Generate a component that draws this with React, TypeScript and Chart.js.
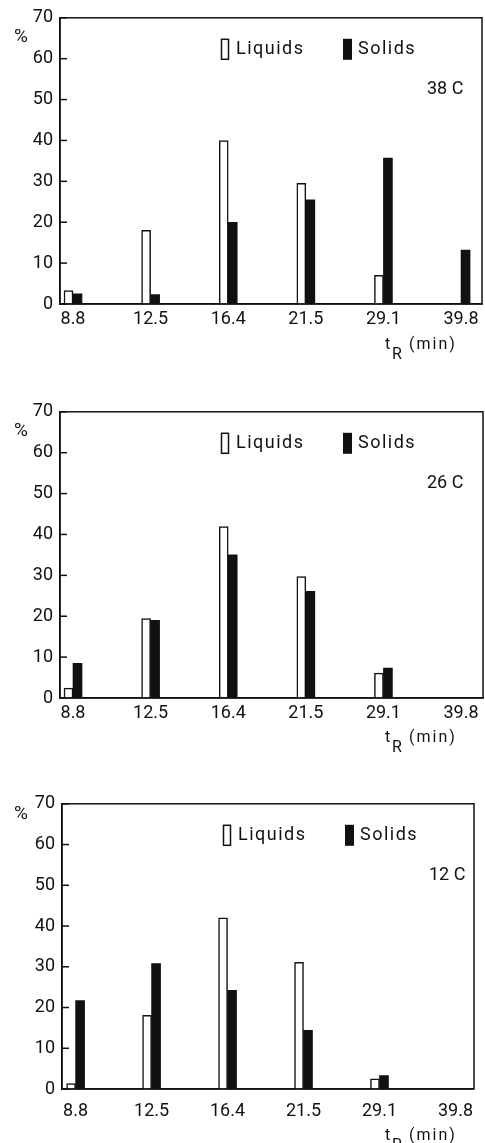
import React, { useEffect, useRef } from 'react';
import { Chart, registerables } from 'chart.js';

Chart.register(...registerables);

// ---- data ----
const categories = ['8.8', '12.5', '16.4', '21.5', '29.1', '39.8'];
const seriesNames = ['Liquids', 'Solids'];
const temperatures = ['38 C', '26 C', '12 C'];

const liquids38 = [3.3, 18, 40, 29.5, 7, null];
const solids38 = [2.5, 2.3, 20, 25.5, 35.7, 13.2];
const liquids26 = [2.4, 19.4, 41.9, 29.7, 6.1, null];
const solids26 = [8.5, 19, 35, 26.1, 7.3, null];
const liquids12 = [1.3, 18.1, 42, 31.1, 2.5, null];
const solids12 = [21.7, 30.8, 24.2, 14.4, 3.3, null];

const yMin = 0;
const yMax = 70;
const yStep = 10;
const yUnit = '%';
const xTitleMain = 't';
const xTitleSub = 'R';
const xTitleUnit = '(min)';

const INK = '#111';
const FONT = 'Roboto, "DejaVu Sans", sans-serif';

type PanelProps = {
  top: number;
  height: number;
  plotLeft: number;
  plotRight: number;
  plotTop: number;
  plotHeight: number;
  xMin: number;
  xMax: number;
  tickPad: number;
  pctDy: number;
  titleDy: number;
  liquids: (number | null)[];
  solids: (number | null)[];
  temp: string;
};

function Panel(p: PanelProps) {
  const ref = useRef<HTMLCanvasElement>(null);
  useEffect(() => {
    const canvas = ref.current!;
    const deco = {
      id: 'deco',
      afterDraw(chart: any) {
        const ctx = chart.ctx as CanvasRenderingContext2D;
        const a = chart.chartArea;
        ctx.save();
        ctx.strokeStyle = INK;
        ctx.fillStyle = INK;
        // frame
        ctx.lineWidth = 1.5;
        ctx.strokeRect(a.left, a.top, a.right - a.left, a.bottom - a.top);
        // inward y ticks
        const ys = chart.scales.y;
        ys.ticks.forEach((t: any) => {
          const y = ys.getPixelForValue(t.value);
          ctx.beginPath();
          ctx.moveTo(a.left, y);
          ctx.lineTo(a.left + 7, y);
          ctx.stroke();
        });
        // unit
        ctx.textBaseline = 'middle';
        ctx.textAlign = 'center';
        ctx.font = `19px ${FONT}`;
        ctx.fillText(yUnit, 21, a.top + p.pctDy);
        // legend
        ctx.textAlign = 'left';
        const ly = a.top + 21;
        ctx.fillStyle = '#fff';
        ctx.fillRect(a.left + 161, ly, 8, 21);
        ctx.strokeRect(a.left + 161.5, ly + 0.5, 7, 20);
        ctx.fillStyle = INK;
        ctx.fillRect(a.left + 283, ly, 9, 21);
        (ctx as any).letterSpacing = '1.5px';
        ctx.font = `18px ${FONT}`;
        ctx.fillText(seriesNames[0], a.left + 176, a.top + 32);
        ctx.fillText(seriesNames[1], a.left + 298, a.top + 32);
        (ctx as any).letterSpacing = '0px';
        // temperature
        ctx.font = `18px ${FONT}`;
        ctx.fillText(p.temp, a.left + 367, a.top + 72);
        // x title t_R (min)
        const by = a.bottom + p.titleDy;
        ctx.font = `16px ${FONT}`;
        ctx.fillText(xTitleMain, 385, by);
        ctx.fillText(xTitleSub, 392, by + 10);
        (ctx as any).letterSpacing = '2px';
        ctx.fillText(xTitleUnit, 409, by);
        (ctx as any).letterSpacing = '0px';
        ctx.restore();
      },
    };
    const chart = new Chart(canvas, {
      type: 'bar',
      data: {
        datasets: [
          {
            label: seriesNames[0],
            data: p.liquids.map((v, i) => ({ x: i, y: v })) as any,
            backgroundColor: '#fff',
            borderColor: INK,
            borderWidth: 1.5,
            barThickness: 9,
          },
          {
            label: seriesNames[1],
            data: p.solids.map((v, i) => ({ x: i, y: v })) as any,
            backgroundColor: INK,
            borderWidth: 0,
            barThickness: 9,
          },
        ],
      },
      options: {
        responsive: false,
        animation: false,
        devicePixelRatio: 1,
        layout: {
          padding: { left: 0, right: 485 - p.plotRight, top: p.plotTop, bottom: 0 },
        },
        plugins: { legend: { display: false }, tooltip: { enabled: false } },
        scales: {
          x: {
            type: 'linear',
            position: 'bottom',
            offset: false,
            min: p.xMin,
            max: p.xMax,
            afterBuildTicks: (s: any) => {
              s.ticks = categories.map((_, i) => ({ value: i }));
            },
            afterFit: (s: any) => {
              s.height = p.height - p.plotTop - p.plotHeight;
            },
            ticks: {
              autoSkip: false,
              maxRotation: 0,
              padding: p.tickPad,
              color: INK,
              font: { family: FONT, size: 18 },
              callback: (v: any) => categories[v as number] ?? '',
            },
            grid: { offset: false, drawOnChartArea: false, drawTicks: false },
            border: { display: true, color: INK, width: 1.5 },
          },
          y: {
            type: 'linear',
            position: 'left',
            min: yMin,
            max: yMax,
            afterFit: (s: any) => {
              s.width = p.plotLeft;
            },
            ticks: {
              stepSize: yStep,
              padding: 7,
              color: INK,
              font: { family: FONT, size: 18 },
            },
            grid: { drawOnChartArea: false, drawTicks: false },
            border: { display: true, color: INK, width: 1.5 },
          },
        },
      } as any,
      plugins: [deco],
    });
    return () => chart.destroy();
  }, []);
  return (
    <div style={{ position: 'absolute', left: 0, top: p.top, width: 485, height: p.height }}>
      <canvas ref={ref} width={485} height={p.height} style={{ display: 'block' }} />
    </div>
  );
}

export default function App() {
  return (
    <div style={{ position: 'absolute', left: 0, top: 0, width: 485, height: 1143, background: '#fff' }}>
      <Panel top={0} height={394} plotLeft={60} plotRight={482} plotTop={16} plotHeight={288}
        xMin={-0.1675} xMax={5.27} tickPad={5} pctDy={19} titleDy={41}
        liquids={liquids38} solids={solids38} temp={temperatures[0]} />
      <Panel top={394} height={392} plotLeft={60} plotRight={483} plotTop={16} plotHeight={288}
        xMin={-0.1675} xMax={5.283} tickPad={5} pctDy={19} titleDy={40}
        liquids={liquids26} solids={solids26} temp={temperatures[1]} />
      <Panel top={786} height={357} plotLeft={62} plotRight={485} plotTop={16} plotHeight={287}
        xMin={-0.179} xMax={5.244} tickPad={12} pctDy={10} titleDy={47}
        liquids={liquids12} solids={solids12} temp={temperatures[2]} />
    </div>
  );
}
